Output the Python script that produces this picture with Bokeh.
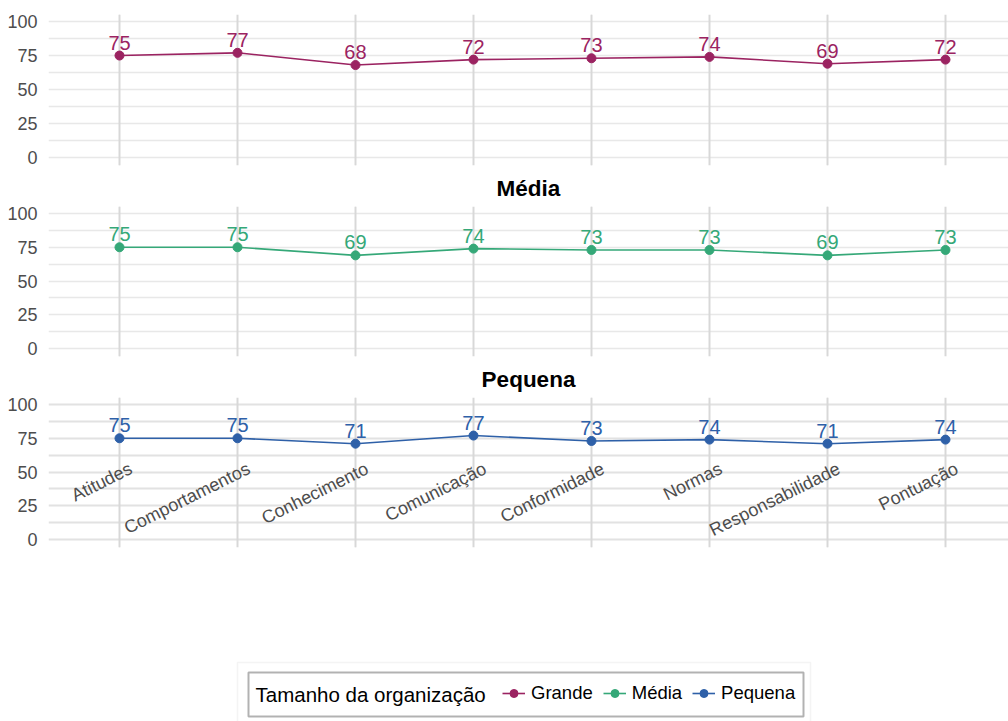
from bokeh.plotting import figure
from bokeh.models import (ColumnDataSource, Range1d, FixedTicker, Grid, Legend, LegendItem,
                          Title, BoxAnnotation, Label)
from bokeh.layouts import column
from bokeh.core.properties import value
from bokeh.embed import file_html
from bokeh.resources import INLINE

categories = ["Atitudes", "Comportamentos", "Conhecimento", "Comunicação",
              "Conformidade", "Normas", "Responsabilidade", "Pontuação"]
grande = [75, 77, 68, 72, 73, 74, 69, 72]
media = [75, 75, 69, 74, 73, 73, 69, 73]
pequena = [75, 75, 71, 77, 73, 74, 71, 74]
series_names = ["Grande", "Média", "Pequena"]
colors = ["#9B2361", "#35A878", "#2E60A8"]
y_ticks = [0, 25, 50, 75, 100]
y_minor = [12.5, 37.5, 62.5, 87.5]
legend_title = "Tamanho da organização"

FONT = "Liberation Sans"
xs = list(range(len(categories)))
series_vals = [grande, media, pequena]


def make_panel(vals, color, title=None, height=170, top=14, bottom=5, xlabels=False,
               grid_color="#e8e8e8", grid_width=1.3):
    p = figure(width=1008, height=height, output_backend="svg", toolbar_location=None,
               x_range=Range1d(-0.6017, 7.534), y_range=Range1d(-5.9, 105.2),
               x_axis_location=None, min_border_left=48, min_border_right=0,
               min_border_top=top, min_border_bottom=bottom)
    p.outline_line_color = None
    if title:
        p.title = Title(text=title, align="center", text_font=FONT, text_font_size="22.5px",
                        text_font_style="bold", text_color="black", standoff=11)
    ax = p.yaxis[0]
    ax.ticker = FixedTicker(ticks=y_ticks, minor_ticks=y_minor)
    ax.axis_line_color = None
    ax.major_tick_line_color = None
    ax.minor_tick_line_color = None
    ax.major_label_text_font = FONT
    ax.major_label_text_font_size = "18px"
    ax.major_label_text_color = "#4d4d4d"
    ax.major_label_standoff = 5
    p.ygrid.grid_line_color = grid_color
    p.ygrid.grid_line_width = grid_width
    p.ygrid.minor_grid_line_color = grid_color
    p.ygrid.minor_grid_line_width = grid_width
    vg = Grid(dimension=0, ticker=FixedTicker(ticks=xs), grid_line_color="#d8d8d8",
              grid_line_width=2)
    p.add_layout(vg, "center")

    src = ColumnDataSource(dict(x=xs, y=vals, t=[str(v) for v in vals]))
    p.line("x", "y", source=src, line_color=color, line_width=1.6)
    p.scatter("x", "y", source=src, size=9, fill_color=color, line_color=color)
    p.text("x", "y", text="t", source=src, text_align="center", text_baseline="bottom",
           y_offset=-6, text_font=value(FONT), text_font_size="20px", text_color=color)
    if xlabels:
        lsrc = ColumnDataSource(dict(x=xs, y=[60] * len(xs), t=categories))
        p.text("x", "y", text="t", source=lsrc, text_align="right", text_baseline="top",
               angle=0.46, x_offset=7, text_font=value(FONT), text_font_size="18px",
               text_color="#4d4d4d")
    return p


p1 = make_panel(grande, colors[0], None, height=168, top=14, bottom=3)
p2 = make_panel(media, colors[1], series_names[1], height=191, top=37, bottom=3)
p3 = make_panel(pequena, colors[2], series_names[2], height=197, top=37, bottom=9,
                xlabels=True, grid_color="#e2e2e2", grid_width=2.2)

# legend panel: data coordinates equal page pixels
p4 = figure(width=1008, height=165, output_backend="svg", toolbar_location=None,
            x_range=Range1d(48, 1008), y_range=Range1d(721, 556),
            min_border_left=48, min_border_right=0, min_border_top=0,
            min_border_bottom=0, x_axis_location=None, y_axis_location=None)
p4.xgrid.visible = False
p4.ygrid.visible = False
p4.outline_line_color = None
p4.add_layout(BoxAnnotation(left=237, right=810, top=662, bottom=722,
                            fill_color=None, line_color="#d9d9d9", line_width=1.5))
p4.add_layout(BoxAnnotation(left=248, right=803, top=672, bottom=716,
                            fill_color=None, line_color="black", line_width=2))
p4.add_layout(Label(x=255, y=694, text=legend_title, text_baseline="middle",
                    text_font=FONT, text_font_size="20.5px", text_color="black"))
items = []
for name, c, vals in zip(series_names, colors, series_vals):
    # same series (off-frame here), only used to draw the legend glyphs
    e = ColumnDataSource(dict(x=xs, y=vals))
    r1 = p4.line("x", "y", source=e, line_color=c, line_width=1.6)
    r2 = p4.scatter("x", "y", source=e, size=8, fill_color=c, line_color=c)
    items.append(LegendItem(label=name, renderers=[r1, r2]))
leg = Legend(items=items, orientation="horizontal", location=(454, 17),
             label_text_font=FONT, label_text_font_size="18.5px", label_text_color="black",
             border_line_color=None, background_fill_alpha=0,
             glyph_width=23, glyph_height=20, label_standoff=6, spacing=10,
             padding=0, margin=0)
p4.add_layout(leg, "center")

layout = column(p1, p2, p3, p4, spacing=0)
open("out.html", "w").write(file_html(layout, INLINE))
